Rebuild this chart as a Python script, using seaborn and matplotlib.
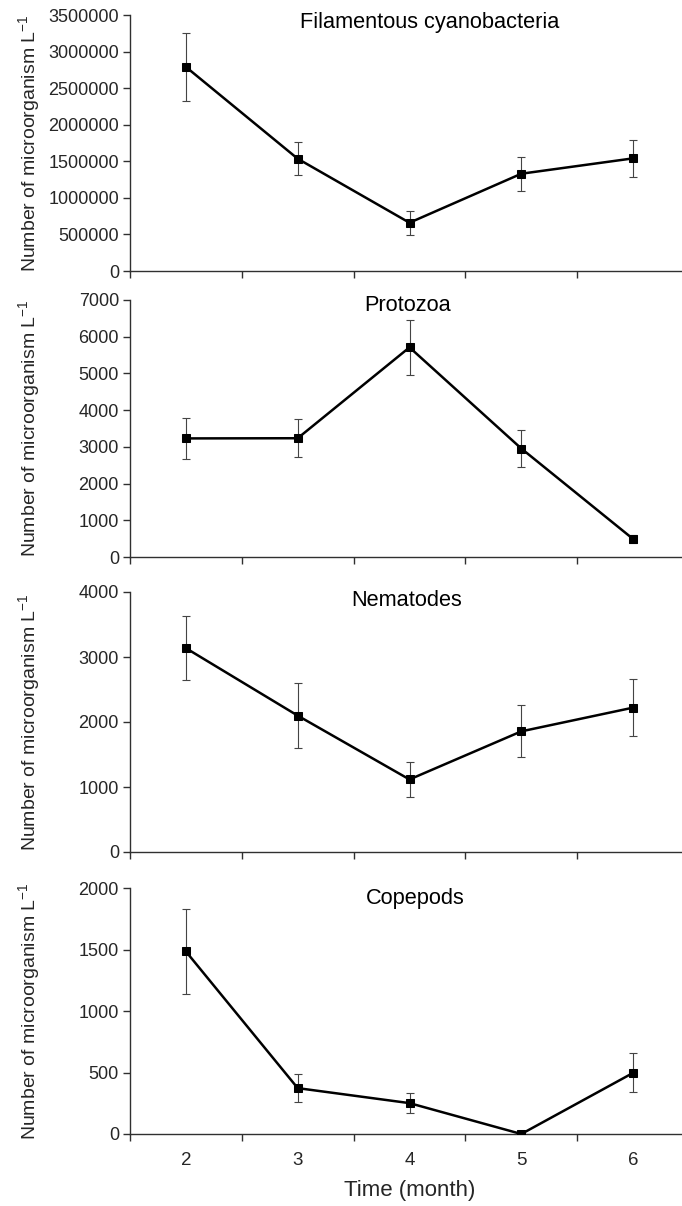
import matplotlib
matplotlib.use("Agg")
import matplotlib.pyplot as plt
import seaborn as sns
import pandas as pd
import numpy as np

months = [2, 3, 4, 5, 6]

cyano_mean = [2790000, 1535000, 660000, 1330000, 1540000]
cyano_err = [460000, 228000, 162000, 230000, 250000]

protozoa_mean = [3230, 3235, 5710, 2955, 490]
protozoa_err = [566, 517, 748, 494, 120]

nematodes_mean = [3136, 2098, 1116, 1856, 2221]
nematodes_err = [495, 500, 272, 400, 437]

copepods_mean = [1484, 373, 251, 0, 497]
copepods_err = [345, 116, 80, 0, 158]

titles = ["Filamentous cyanobacteria", "Protozoa", "Nematodes", "Copepods"]
ymaxes = [3500000, 7000, 4000, 2000]
ysteps = [500000, 1000, 1000, 500]

sns.set_theme(style="white")
plt.rcParams["font.family"] = ["Liberation Sans", "DejaVu Sans"]
plt.rcParams["mathtext.default"] = "regular"

W, H = 682, 1206
fig = plt.figure(figsize=(W / 100, H / 100), dpi=100)

# panel pixel boxes (top, bottom)
boxes = [(15, 271), (300, 557), (592, 852), (888, 1134)]
left_px, right_px = 130, 689
title_pos = [(0.537, 0.969), (0.497, 0.977), (0.494, 0.969), (0.51, 0.959)]

series = [(cyano_mean, cyano_err), (protozoa_mean, protozoa_err),
          (nematodes_mean, nematodes_err), (copepods_mean, copepods_err)]

spine_col = "#303030"
for i, ((top, bot), (mean, err)) in enumerate(zip(boxes, series)):
    ax = fig.add_axes([left_px / W, 1 - bot / H, (right_px - left_px) / W, (bot - top) / H])
    df = pd.DataFrame({"month": months, "value": mean})
    ax.errorbar(months, mean, yerr=err, fmt="none", ecolor="#444444",
                elinewidth=0.8, capsize=3, capthick=0.8, zorder=2)
    sns.lineplot(data=df, x="month", y="value", ax=ax, color="black",
                 linewidth=1.8, marker="s", markersize=6, markeredgecolor="black",
                 markerfacecolor="black", zorder=3)
    ax.set_xlim(1.5, 6.5)
    ax.set_ylim(0, ymaxes[i])
    ax.set_yticks(np.arange(0, ymaxes[i] + 1, ysteps[i]))
    ax.set_yticklabels([f"{int(v)}" for v in np.arange(0, ymaxes[i] + 1, ysteps[i])])
    ax.set_xticks(months)
    ax.set_xticks([1.5, 2.5, 3.5, 4.5, 5.5, 6.5], minor=True)
    ax.tick_params(axis="x", which="major", length=0, labelsize=13.5, pad=13,
                   labelbottom=(i == 3))
    ax.tick_params(axis="x", which="minor", length=5, width=1, direction="out",
                   color=spine_col, bottom=True)
    ax.tick_params(axis="y", which="major", length=5, width=1, direction="out",
                   color=spine_col, labelsize=13, left=True, pad=3)
    for s in ["top", "right"]:
        ax.spines[s].set_visible(False)
    for s in ["left", "bottom"]:
        ax.spines[s].set_color(spine_col)
        ax.spines[s].set_linewidth(1)
    ax.set_ylabel(r"Number of microorganism L$^{-1}$", fontsize=14)
    ax.yaxis.set_label_coords(-0.158, 0.5)
    if i == 3:
        ax.set_xlabel("Time (month)", fontsize=16, labelpad=8)
    else:
        ax.set_xlabel("")
    ax.text(title_pos[i][0], title_pos[i][1], titles[i], transform=ax.transAxes,
            ha="center", va="center", fontsize=15.7, color="black")
    ax.set_facecolor("white")

fig.savefig("out.png", dpi=100, facecolor="white")
